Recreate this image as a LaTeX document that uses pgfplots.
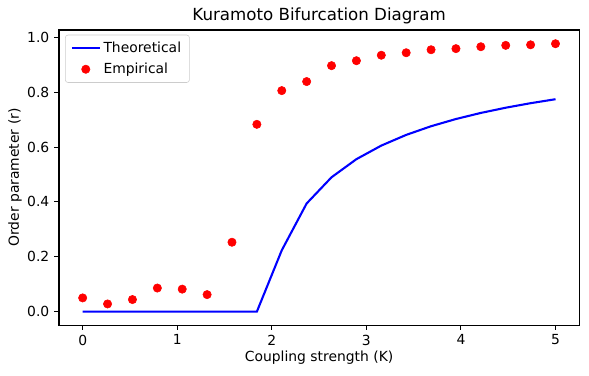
\documentclass[border=0pt]{standalone}
\usepackage{pgfplots}
\pgfplotsset{compat=1.18}
\usepackage{fontspec}
\setmainfont{DejaVu Sans}
\pgfplotsset{
  mylineleg/.style={legend image code/.code={\draw[##1] (0pt,0pt) -- (20pt,0pt);}},
  mymarkleg/.style={legend image code/.code={\draw[##1] plot coordinates {(10pt,0pt)};}},
}
\begin{document}
\begin{tikzpicture}
\path[use as bounding box] (0,0) rectangle (424pt,270pt);
\begin{axis}[
  at={(42.5pt,36pt)}, anchor=south west,
  scale only axis,
  width=374.4pt, height=212.4pt,
  xmin=-0.25, xmax=5.25,
  ymin=-0.049, ymax=1.027,
  xtick={0,1,2,3,4,5},
  ytick={0,0.2,0.4,0.6,0.8,1.0},
  yticklabel style={/pgf/number format/.cd, fixed, fixed zerofill, precision=1},
  /pgf/number format/assume math mode=true,
  tick label style={font=\fontsize{10}{12}\selectfont},
  label style={font=\fontsize{10}{12}\selectfont},
  xlabel style={yshift=3pt},
  ylabel style={yshift=-3pt},
  title style={font=\fontsize{12}{14}\selectfont, yshift=-5.5pt},
  title={Kuramoto Bifurcation Diagram},
  xlabel={Coupling strength (K)},
  ylabel={Order parameter (r)},
  axis line style={line width=0.8pt},
  tick style={line width=0.8pt, black},
  tick align=outside,
  tick pos=left,
  major tick length=3.5pt,
  legend cell align=left,
  legend style={font=\fontsize{10}{12}\selectfont, draw=black!20, rounded corners=2pt, inner xsep=4pt, inner ysep=3pt, row sep=2pt, at={(0.0115,0.984)}, anchor=north west,
    nodes={inner sep=2pt}},
]
\addplot[blue, line width=1.5pt, mylineleg] coordinates {
(0.0000,0) (0.2632,0) (0.5263,0) (0.7895,0) (1.0526,0) (1.3158,0) (1.5789,0) (1.8421,0)
(2.1053,0.2236) (2.3684,0.3944) (2.6316,0.4899) (2.8947,0.5560) (3.1579,0.6055)
(3.4211,0.6445) (3.6842,0.6761) (3.9474,0.7024) (4.2105,0.7246) (4.4737,0.7436)
(4.7368,0.7601) (5.0000,0.7746)
};
\addlegendentry{Theoretical}
\addplot[only marks, mark=*, mark size=3pt, color=red, mark options={fill=red, draw=red}, mymarkleg] coordinates {
(0.0000,0.050) (0.2632,0.028) (0.5263,0.044) (0.7895,0.086) (1.0526,0.082) (1.3158,0.062)
(1.5789,0.253) (1.8421,0.683) (2.1053,0.806) (2.3684,0.839) (2.6316,0.897) (2.8947,0.915)
(3.1579,0.935) (3.4211,0.944) (3.6842,0.955) (3.9474,0.959) (4.2105,0.966) (4.4737,0.971)
(4.7368,0.973) (5.0000,0.977)
};
\addlegendentry{Empirical}
\end{axis}
\end{tikzpicture}
\end{document}
